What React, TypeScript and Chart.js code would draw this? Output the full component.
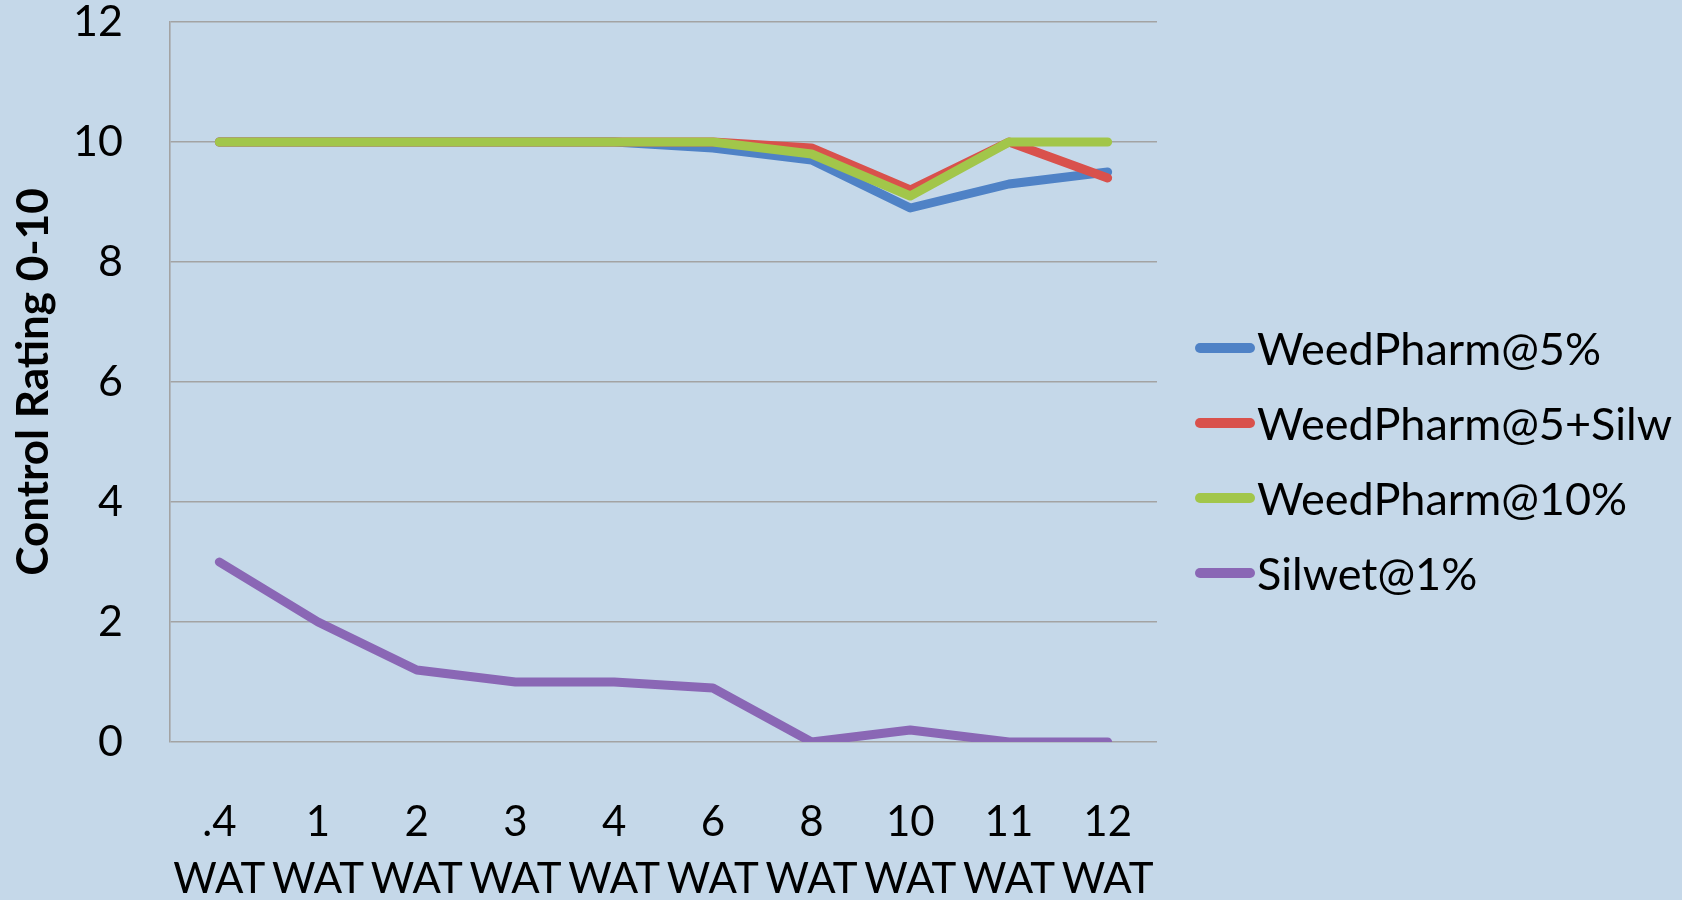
import React, { useEffect, useRef } from "react";
import { Chart, registerables } from "chart.js";

Chart.register(...registerables);

const categories: string[][] = [
  [".4", "WAT"], ["1", "WAT"], ["2", "WAT"], ["3", "WAT"], ["4", "WAT"],
  ["6", "WAT"], ["8", "WAT"], ["10", "WAT"], ["11", "WAT"], ["12", "WAT"],
];
const seriesNames = ["WeedPharm@5%", "WeedPharm@5+Silw", "WeedPharm@10%", "Silwet@1%"];
const weedPharm5 = [10, 10, 10, 10, 10, 9.9, 9.7, 8.9, 9.3, 9.5];
const weedPharm5Silw = [10, 10, 10, 10, 10, 10, 9.9, 9.2, 10, 9.4];
const weedPharm10 = [10, 10, 10, 10, 10, 10, 9.8, 9.1, 10, 10];
const silwet1 = [3, 2, 1.2, 1.0, 1.0, 0.9, 0, 0.2, 0, 0];
const yTicks = [0, 2, 4, 6, 8, 10, 12];
const yTitle = "Control Rating 0-10";

const colors = ["#4f82c6", "#d9514c", "#a2c64a", "#8a67b5"];
const BG = "#c5d8e9";
const FONT = "Lato, 'Noto Sans', sans-serif";

export default function App() {
  const ref = useRef<HTMLCanvasElement | null>(null);

  useEffect(() => {
    document.body.style.margin = "0";
    document.body.style.background = BG;
    const canvas = ref.current;
    if (!canvas) return;

    const bgPlugin = {
      id: "bg",
      beforeDraw(chart: any) {
        const { ctx, width, height } = chart;
        ctx.save();
        ctx.fillStyle = BG;
        ctx.fillRect(0, 0, width, height);
        ctx.restore();
      },
    };

    const legendPlugin = {
      id: "customLegend",
      afterDraw(chart: any) {
        const { ctx } = chart;
        const x0 = 1200;
        const x1 = 1250;
        const textX = 1257;
        const y0 = 348;
        const step = 75;
        ctx.save();
        chart.data.datasets.forEach((ds: any, i: number) => {
          const y = y0 + i * step;
          ctx.beginPath();
          ctx.strokeStyle = ds.borderColor;
          ctx.lineWidth = 10;
          ctx.lineCap = "round";
          ctx.moveTo(x0, y);
          ctx.lineTo(x1, y);
          ctx.stroke();
          ctx.fillStyle = "#000";
          ctx.font = `45px ${FONT}`;
          ctx.textBaseline = "middle";
          ctx.textAlign = "left";
          ctx.fillText(ds.label, textX, y + 2);
        });
        ctx.restore();
      },
    };

    const values = [weedPharm5, weedPharm5Silw, weedPharm10, silwet1];
    const orders = [3, 2, 1, 0];

    const chart = new Chart(canvas, {
      type: "line",
      data: {
        labels: categories,
        datasets: values.map((v, i) => ({
          label: seriesNames[i],
          data: v,
          borderColor: colors[i],
          backgroundColor: colors[i],
          borderWidth: 9,
          borderCapStyle: "round",
          borderJoinStyle: "round",
          pointRadius: 0,
          tension: 0,
          fill: false,
          order: orders[i],
        })),
      },
      options: {
        animation: false,
        responsive: false,
        maintainAspectRatio: false,
        devicePixelRatio: 1,
        layout: { padding: { top: 22, right: 525, left: 0, bottom: 0 } },
        plugins: {
          legend: { display: false },
          tooltip: { enabled: false },
        },
        scales: {
          x: {
            offset: true,
            grid: { display: false, drawTicks: false },
            border: { display: false },
            ticks: {
              padding: 51,
              color: "#000",
              font: { family: FONT, size: 42, lineHeight: 1.38 },
              maxRotation: 0,
              autoSkip: false,
            },
            afterFit(scale: any) {
              scale.height = 158;
              scale.paddingLeft = 0;
              scale.paddingRight = 0;
            },
          },
          y: {
            min: 0,
            max: 12,
            afterBuildTicks(scale: any) {
              scale.ticks = yTicks.map((v) => ({ value: v }));
            },
            grid: { color: "#a3a3a3", lineWidth: 1.6, drawTicks: false },
            border: { display: true, color: "#a3a3a3", width: 1.6 },
            ticks: {
              padding: 47,
              color: "#000",
              font: { family: FONT, size: 43, lineHeight: 1 },
            },
            title: {
              display: true,
              text: yTitle,
              color: "#000",
              font: { family: FONT, size: 44, weight: "bold", lineHeight: 1.2 },
              padding: { top: 7, bottom: 0 },
            },
            afterFit(scale: any) {
              scale.width = 170;
              scale.paddingTop = 0;
              scale.paddingBottom = 0;
            },
          },
        },
      },
      plugins: [bgPlugin, legendPlugin],
    } as any);

    return () => chart.destroy();
  }, []);

  return (
    <div style={{ width: 1682, height: 900 }}>
      <canvas ref={ref} width={1682} height={900} style={{ width: 1682, height: 900, display: "block" }} />
    </div>
  );
}
